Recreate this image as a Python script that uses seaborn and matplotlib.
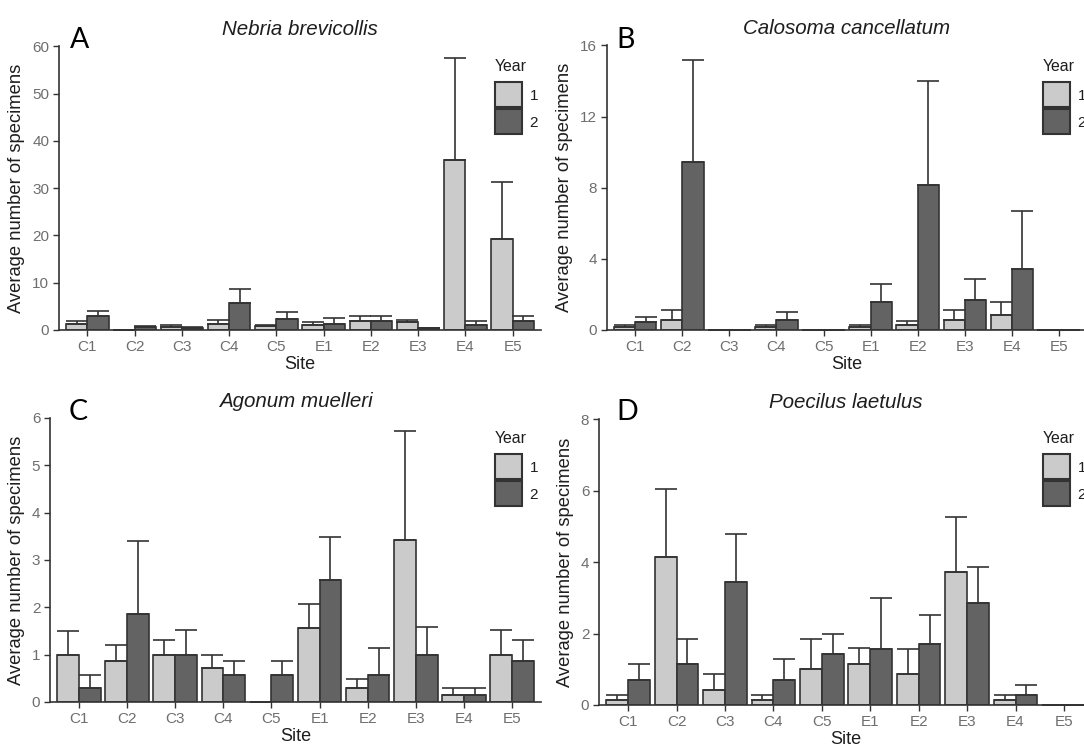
import numpy as np
import pandas as pd
import matplotlib
matplotlib.use("Agg")
import matplotlib.pyplot as plt
import seaborn as sns
from matplotlib.patches import Patch

# -------------------------
# DATA (means and upper error = SE)
# -------------------------
sites = ["C1", "C2", "C3", "C4", "C5", "E1", "E2", "E3", "E4", "E5"]
years = ["1", "2"]

# A - Nebria brevicollis
nebria_y1 = [1.27, 0.0, 0.56, 1.27, 0.8, 1.13, 1.9, 1.62, 35.9, 19.25]
nebria_y1_se = [0.56, 0.0, 0.57, 0.92, 0.33, 0.49, 1.13, 0.57, 21.6, 12.15]
nebria_y2 = [3.03, 0.7, 0.42, 5.64, 2.33, 1.34, 1.9, 0.35, 1.13, 1.9]
nebria_y2_se = [1.06, 0.2, 0.14, 3.03, 1.55, 1.13, 1.13, 0.1, 0.7, 1.13]

# B - Calosoma cancellatum
calosoma_y1 = [0.14, 0.57, 0.0, 0.14, 0.0, 0.14, 0.29, 0.57, 0.86, 0.0]
calosoma_y1_se = [0.14, 0.57, 0.0, 0.14, 0.0, 0.14, 0.21, 0.57, 0.71, 0.0]
calosoma_y2 = [0.43, 9.43, 0.0, 0.57, 0.0, 1.57, 8.14, 1.71, 3.43, 0.0]
calosoma_y2_se = [0.28, 5.77, 0.0, 0.43, 0.0, 1.0, 5.86, 1.15, 3.27, 0.0]

# C - Agonum muelleri
agonum_y1 = [1.0, 0.86, 1.0, 0.71, 0.0, 1.57, 0.29, 3.43, 0.14, 1.0]
agonum_y1_se = [0.5, 0.34, 0.31, 0.28, 0.0, 0.51, 0.19, 2.3, 0.15, 0.53]
agonum_y2 = [0.29, 1.86, 1.0, 0.57, 0.57, 2.57, 0.57, 1.0, 0.14, 0.86]
agonum_y2_se = [0.28, 1.55, 0.53, 0.29, 0.29, 0.92, 0.57, 0.58, 0.15, 0.45]

# D - Poecilus laetulus
poecilus_y1 = [0.14, 4.14, 0.43, 0.14, 1.0, 1.14, 0.86, 3.71, 0.14, 0.0]
poecilus_y1_se = [0.14, 1.9, 0.43, 0.14, 0.86, 0.45, 0.71, 1.54, 0.14, 0.0]
poecilus_y2 = [0.71, 1.14, 3.43, 0.71, 1.43, 1.57, 1.71, 2.86, 0.29, 0.0]
poecilus_y2_se = [0.43, 0.72, 1.36, 0.57, 0.57, 1.43, 0.82, 1.0, 0.28, 0.0]

panels = [
    ("A", "Nebria brevicollis", nebria_y1, nebria_y1_se, nebria_y2, nebria_y2_se, [0, 10, 20, 30, 40, 50, 60]),
    ("B", "Calosoma cancellatum", calosoma_y1, calosoma_y1_se, calosoma_y2, calosoma_y2_se, [0, 4, 8, 12, 16]),
    ("C", "Agonum muelleri", agonum_y1, agonum_y1_se, agonum_y2, agonum_y2_se, [0, 1, 2, 3, 4, 5, 6]),
    ("D", "Poecilus laetulus", poecilus_y1, poecilus_y1_se, poecilus_y2, poecilus_y2_se, [0, 2, 4, 6, 8]),
]

# -------------------------
# STYLE
# -------------------------
sns.set_style("ticks")
plt.rcParams["font.family"] = ["Liberation Sans", "DejaVu Sans"]

fills = {"1": "#cbcbcb", "2": "#636363"}
edge = "#333333"
tick_grey = "#6e6e6e"
text_dark = "#1e1e1e"

# axes rectangles [left, bottom, width, height] in figure fractions
positions = [
    [0.0544, 0.5612, 0.4446, 0.3770],
    [0.5600, 0.5612, 0.4428, 0.3785],
    [0.0461, 0.0665, 0.4530, 0.3777],
    [0.5526, 0.0625, 0.4557, 0.3803],
]
letter_pos = [(0.0646, 0.936), (0.569, 0.936), (0.0637, 0.4415), (0.569, 0.4415)]
legend_pos = [(0.4566, 0.9215), (0.9622, 0.9215), (0.4566, 0.4269), (0.9622, 0.4269)]

fig = plt.figure(figsize=(10.84, 7.52), dpi=100)

for (letter, species, m1, s1, m2, s2, yticks), rect, lp, lgp in zip(
        panels, positions, letter_pos, legend_pos):
    ax = fig.add_axes(rect)

    df = pd.DataFrame({
        "Site": sites * 2,
        "Year": ["1"] * len(sites) + ["2"] * len(sites),
        "Mean": m1 + m2,
        "SE": s1 + s2,
    })

    sns.barplot(data=df, x="Site", y="Mean", hue="Year", order=sites,
                hue_order=years, palette=fills, edgecolor=edge, linewidth=1.2,
                width=0.9, errorbar=None, legend=False, ax=ax, zorder=2)

    # upper error bars, taken from the bar patches (year 1 then year 2)
    bars = ax.patches[:2 * len(sites)]
    xs = [b.get_x() + b.get_width() / 2 for b in bars]
    hs = [b.get_height() for b in bars]
    se = list(df["SE"])
    ax.errorbar(xs, hs, yerr=[np.zeros(len(se)), se], fmt="none",
                ecolor=edge, elinewidth=1.2, capsize=7.7, capthick=1.2, zorder=3)

    ax.set_xlim(-0.6, len(sites) - 0.4)
    ax.set_ylim(0, yticks[-1])
    ax.set_yticks(yticks)
    ax.set_xlabel("Site", fontsize=13, color=text_dark, labelpad=2)
    ax.set_ylabel("Average number of specimens", fontsize=13.2,
                  color=text_dark, labelpad=5)
    ax.set_title(species, fontsize=14.8, style="italic", color=text_dark, pad=8)
    ax.tick_params(axis="both", labelsize=11, labelcolor=tick_grey,
                   color=edge, length=4, width=1, pad=3)
    for sp in ["left", "bottom"]:
        ax.spines[sp].set_color(edge)
        ax.spines[sp].set_linewidth(1.2)
    sns.despine(ax=ax)

    fig.text(lp[0], lp[1], letter, fontsize=20.5, family=["Lato", "DejaVu Sans"],
             color="black", va="baseline", ha="left")

    handles = [Patch(facecolor=fills[y], edgecolor=edge, linewidth=1.5, label=y)
               for y in years]
    leg = ax.legend(handles=handles, title="Year", loc="upper left",
                    bbox_to_anchor=lgp, bbox_transform=fig.transFigure,
                    frameon=False, fontsize=11, title_fontsize=11.4,
                    handlelength=1.76, handleheight=2.14, labelspacing=0.13,
                    handletextpad=0.5, borderpad=0, borderaxespad=0)
    leg._legend_box.align = "left"
    leg._legend_box.sep = 6
    leg.get_title().set_color(text_dark)
    for t in leg.get_texts():
        t.set_color(text_dark)

fig.savefig("out.png", dpi=100)
